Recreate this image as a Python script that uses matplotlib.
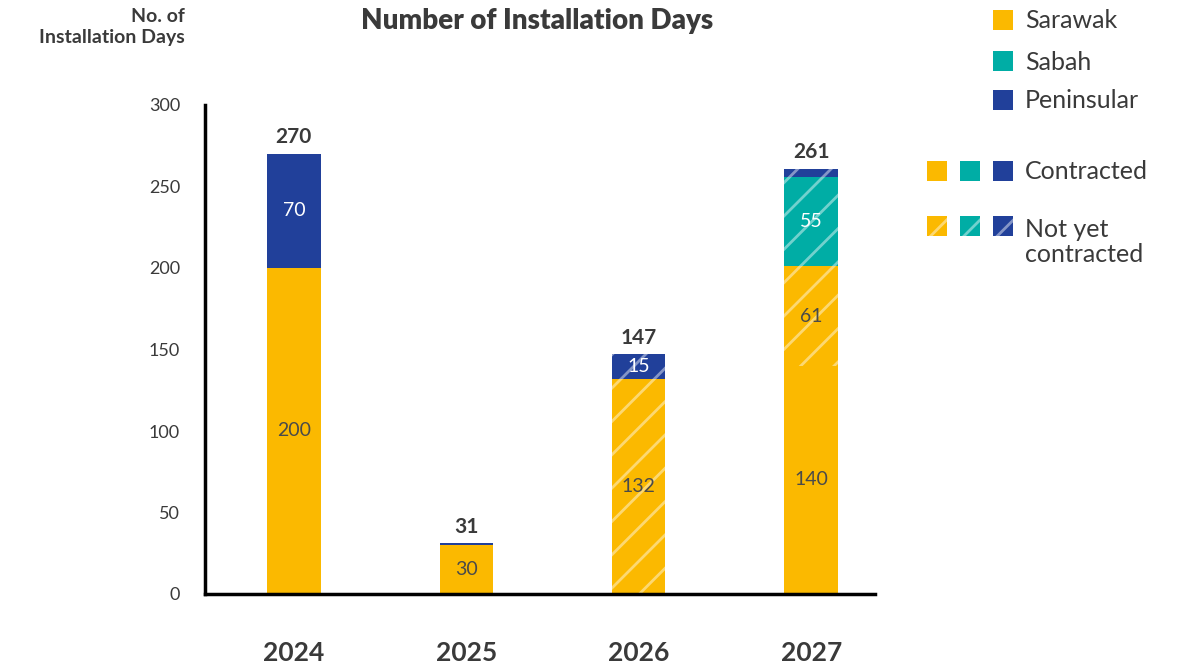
import matplotlib.pyplot as plt
from matplotlib.patches import Rectangle

plt.rcParams["font.family"] = ["Lato", "DejaVu Sans"]
plt.rcParams["hatch.linewidth"] = 2.0

years = ["2024", "2025", "2026", "2027"]
regions = ["Sarawak", "Sabah", "Peninsular"]
colors = {"Sarawak": "#FBB900", "Sabah": "#00ADA5", "Peninsular": "#21409A"}
label_colors = {"Sarawak": "#4a4a4a", "Sabah": "white", "Peninsular": "white"}

# stacked segments per year, bottom to top: (region, value, contracted)
seg_2024 = [("Sarawak", 200, True), ("Peninsular", 70, True)]
seg_2025 = [("Sarawak", 30, True), ("Peninsular", 1, True)]
seg_2026 = [("Sarawak", 132, False), ("Peninsular", 15, False)]
seg_2027 = [("Sarawak", 140, True), ("Sarawak", 61, False),
            ("Sabah", 55, False), ("Peninsular", 5, False)]
segments = [seg_2024, seg_2025, seg_2026, seg_2027]
totals = [270, 31, 147, 261]

text_col = "#3a3a3a"

fig = plt.figure(figsize=(11.92, 6.68), dpi=100)
ax = fig.add_axes([205 / 1192, 1 - 594 / 668, 670 / 1192, 489 / 668])

width = 0.31
for i, segs in enumerate(segments):
    bottom = 0
    for region, val, contracted in segs:
        if contracted:
            ax.bar(i, val, width, bottom=bottom, color=colors[region], linewidth=0)
        else:
            ax.bar(i, val, width, bottom=bottom, facecolor=colors[region],
                   edgecolor=(1, 1, 1, 0.45), linewidth=0, hatch="/")
        if val >= 10:
            ax.text(i, bottom + val / 2, str(val), ha="center", va="center",
                    fontsize=14, color=label_colors[region])
        bottom += val
    ax.text(i, bottom + 4, str(totals[i]), ha="center", va="bottom",
            fontsize=15, fontweight="bold", color=text_col)

ax.set_xlim(-0.515, 3.37)
ax.set_ylim(0, 300)
ax.set_yticks([0, 50, 100, 150, 200, 250, 300])
ax.set_xticks(range(len(years)))
ax.set_xticklabels(years, fontsize=19, fontweight="bold", color=text_col)
ax.tick_params(axis="x", length=0, pad=34)
ax.tick_params(axis="y", length=0, pad=18, labelsize=13, labelcolor=text_col)
for s in ["top", "right"]:
    ax.spines[s].set_visible(False)
for s in ["left", "bottom"]:
    ax.spines[s].set_linewidth(2.5)
    ax.spines[s].set_color("black")

fig.text(537 / 1192, 1 - 21 / 668, "Number of Installation Days", ha="center",
         va="center", fontsize=20, fontweight="heavy", color=text_col)
fig.text(185 / 1192, 1 - 27 / 668, "No. of\nInstallation Days", ha="right",
         va="center", fontsize=14, fontweight="bold", color=text_col,
         linespacing=1.25)

# legend
def square(x, y, color, hatched=False):
    r = Rectangle((x / 1192, 1 - (y + 10) / 668), 20 / 1192, 20 / 668,
                  transform=fig.transFigure, facecolor=color, linewidth=0,
                  edgecolor=(1, 1, 1, 0.45) if hatched else color,
                  hatch="/" if hatched else None)
    fig.patches.append(r)

for k, region in enumerate(regions):
    y = [20, 61, 100][k]
    square(993, y, colors[region])
    fig.text(1025 / 1192, 1 - (y + 1) / 668, region, ha="left", va="center",
             fontsize=18, color=text_col)

for k, region in enumerate(regions):
    square(927 + 33 * k, 171, colors[region])
    square(927 + 33 * k, 226, colors[region], hatched=True)
fig.text(1025 / 1192, 1 - 172 / 668, "Contracted", ha="left", va="center",
         fontsize=18, color=text_col)
fig.text(1025 / 1192, 1 - 242 / 668, "Not yet\ncontracted", ha="left",
         va="center", fontsize=18, color=text_col, linespacing=1.15)

fig.savefig("out.png", dpi=100)
